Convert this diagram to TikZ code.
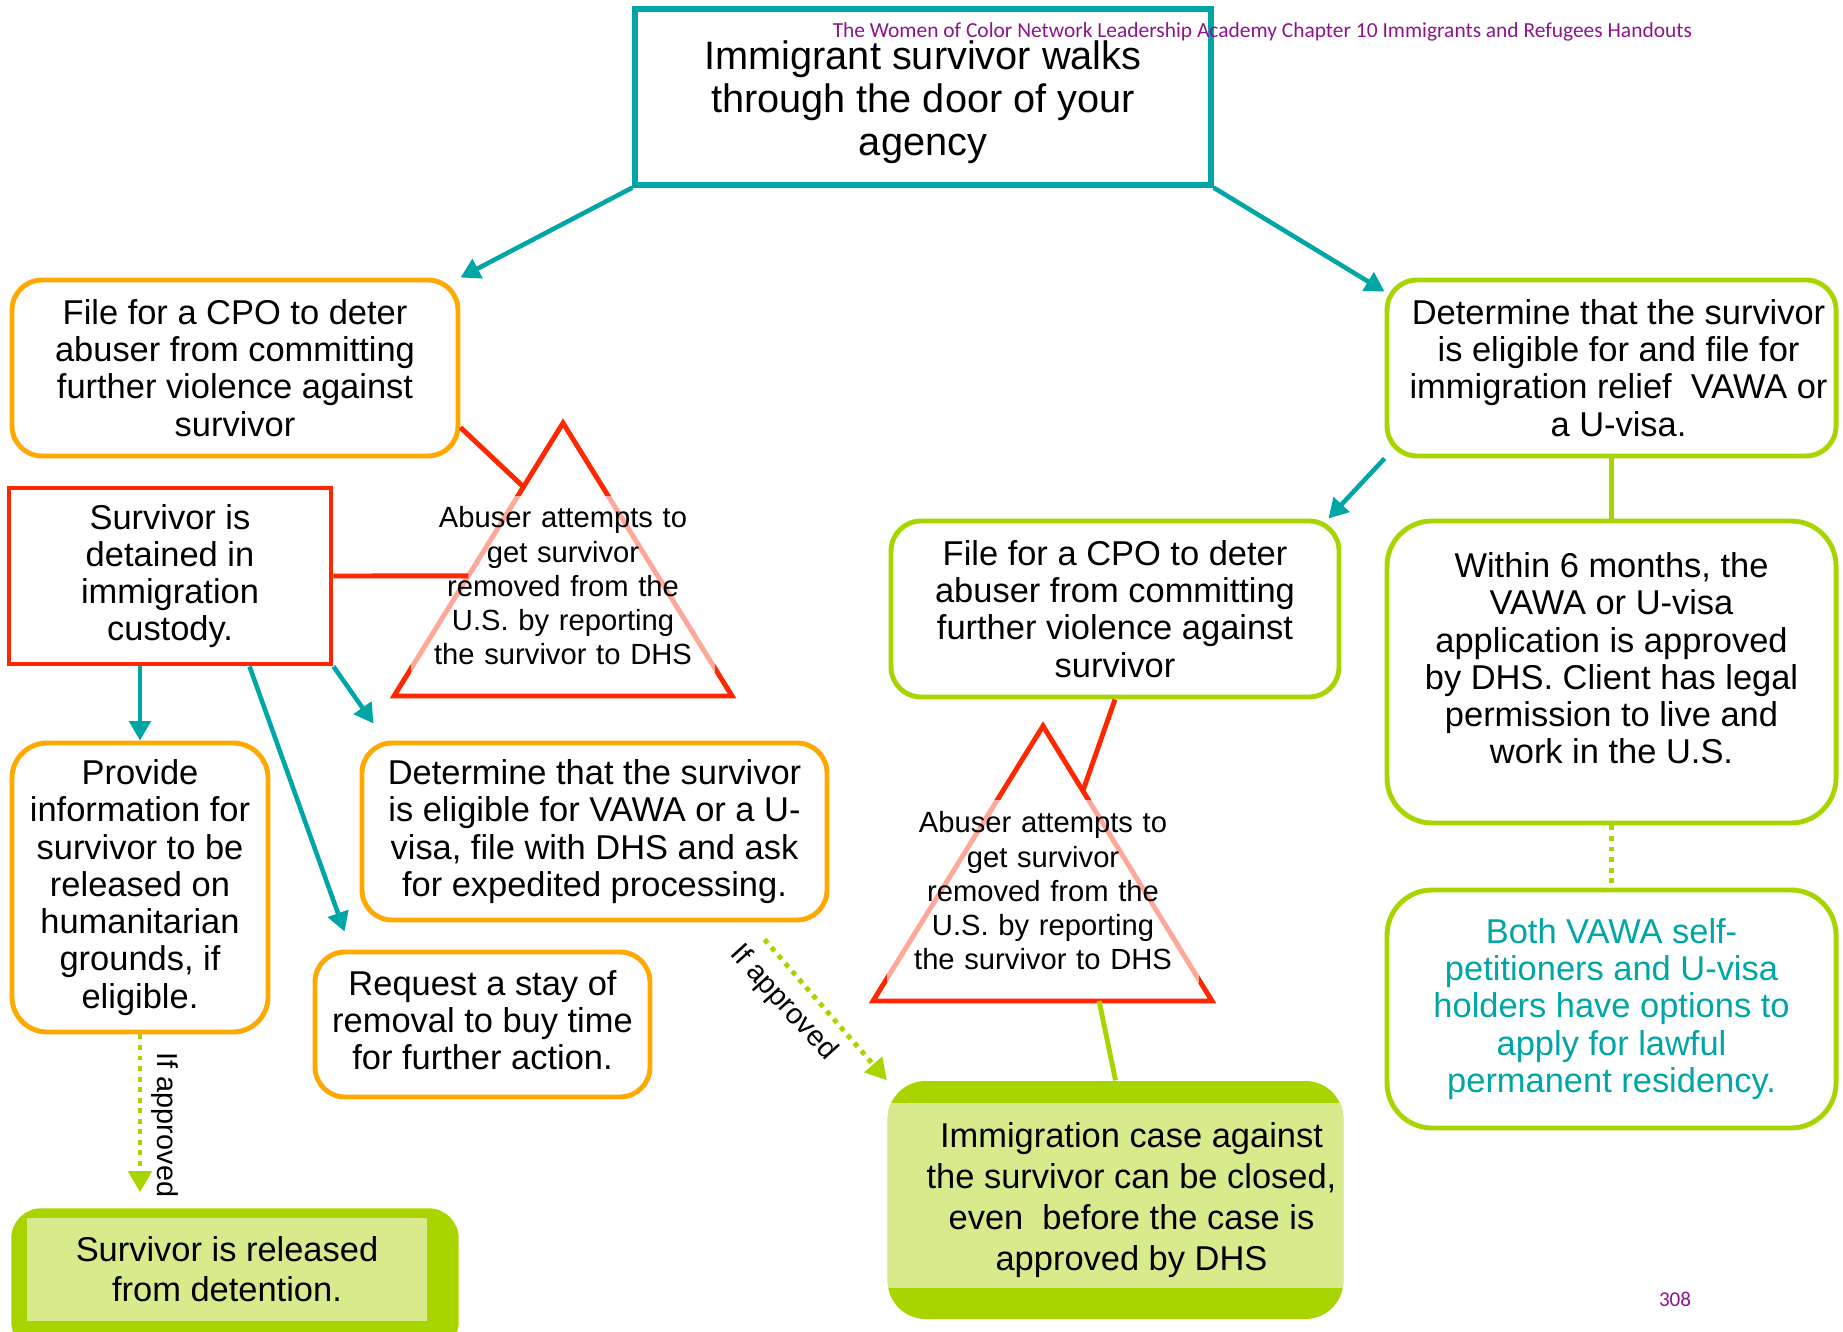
\documentclass[tikz,border=0pt]{standalone}
\usepackage{fontspec}
\setmainfont{Liberation Sans}
\newfontfamily\hdrfont{Carlito}
\usepackage{xcolor}
\usetikzlibrary{positioning,arrows.meta,calc,backgrounds}

\definecolor{tealc}{RGB}{0,166,166}
\definecolor{orangec}{RGB}{255,168,0}
\definecolor{greenc}{RGB}{168,212,0}
\definecolor{lightg}{RGB}{216,234,140}
\definecolor{redc}{RGB}{255,38,0}
\definecolor{purplec}{RGB}{140,20,140}

\begin{document}
\begin{tikzpicture}[
    every node/.style={font=\fontsize{9.8}{10.6}\selectfont, align=center, inner sep=2pt},
    box/.style={draw, line width=1.4pt, rounded corners=0.3cm},
    obox/.style={box, draw=orangec},
    gbox/.style={box, draw=greenc},
    flow/.style={draw=tealc, line width=1.3pt, -{Triangle[length=5.5pt,width=6pt]}},
    okflow/.style={draw=greenc, line width=1.4pt, dash pattern=on 1.4pt off 1.6pt, -{Triangle[length=6pt,width=6.5pt]}},
    abuse/.style={draw=redc, line width=1.4pt},
    tritext/.style={fill=white, fill opacity=0.6, text opacity=1, font=\fontsize{8.3}{9.75}\selectfont, inner sep=0pt},
    oklabel/.style={font=\fontsize{8.2}{9}\selectfont}
]
\useasboundingbox (0,0) rectangle (18.43,-13.32);

% Start
\node[draw=tealc, line width=1.5pt, minimum width=5.76cm, minimum height=1.76cm,
      font=\fontsize{11.3}{12.2}\selectfont] (door) at (9.23,-0.97)
      {\rule{0pt}{11.2pt}Immigrant survivor walks\\through the door of your\\agency};
\node[anchor=west, text=purplec, font=\hdrfont\fontsize{6.1}{7}\selectfont] (hdr) at (8.25,-0.32)
      {The Women of Color Network Leadership Academy Chapter 10 Immigrants and Refugees Handouts};

% Left branch
\node[obox, minimum width=4.46cm, minimum height=1.76cm] (cpoL) at (2.35,-3.68)
      {File for a CPO to deter\\abuser from committing\\further violence against\\survivor};
\node[draw=redc, line width=1.4pt, minimum width=3.22cm, minimum height=1.76cm] (detained) at (1.70,-5.76)
      {Survivor is\\detained in\\immigration\\custody.};

\coordinate (t1top) at (5.63,-4.23);
\coordinate (t1left) at (3.94,-6.96);
\coordinate (t1right) at (7.32,-6.96);
\draw[abuse] (t1top) -- (t1left) -- (t1right) -- cycle;
\node[tritext, text width=3.04cm, minimum height=1.8cm] (t1txt) at (5.63,-5.86)
      {Abuser attempts to\\get survivor\\removed from the\\U.S. by reporting\\the survivor to DHS};

\node[obox, rounded corners=0.35cm, minimum width=2.56cm, minimum height=2.89cm] (provide) at (1.40,-8.875)
      {Provide\\information for\\survivor to be\\released on\\humanitarian\\grounds, if\\eligible.};
\node[obox, minimum width=4.65cm, minimum height=1.77cm] (eligL) at (5.945,-8.315)
      {Determine that the survivor\\is eligible for VAWA or a U-\\visa, file with DHS and ask\\for expedited processing.};
\node[obox, minimum width=3.35cm, minimum height=1.45cm] (stay) at (4.825,-10.245)
      {Request a stay of\\removal to buy time\\for further action.\\[-8pt]\mbox{}};
\node[fill=lightg, minimum width=4.0cm, minimum height=1.03cm, inner sep=0pt,
      font=\fontsize{9.8}{11.3}\selectfont] (released) at (2.27,-12.695)
      {Survivor is released\\from detention.};
\begin{scope}[on background layer]
  \fill[greenc, rounded corners=0.3cm] ([xshift=-0.15cm,yshift=0.09cm]released.north west)
      rectangle ([xshift=0.31cm,yshift=-0.3cm]released.south east);
\end{scope}

% Right branch
\node[gbox, minimum width=4.49cm, minimum height=1.76cm] (vawaR) at (16.115,-3.68)
      {\hspace*{0.14cm}Determine that the survivor\\\hspace*{0.14cm}is eligible for and file for\\\hspace*{0.14cm}immigration relief\ \ VAWA or\\\hspace*{0.14cm}a U-visa.};
\node[gbox, minimum width=4.48cm, minimum height=1.76cm] (cpoR) at (11.15,-6.09)
      {File for a CPO to deter\\abuser from committing\\further violence against\\survivor};
\node[gbox, rounded corners=0.45cm, minimum width=4.49cm, minimum height=3.02cm] (within) at (16.115,-6.72)
      {Within 6 months, the\\VAWA or U-visa\\application is approved\\by DHS. Client has legal\\permission to live and\\work in the U.S.\\[-2.8pt]\mbox{}};
\node[gbox, rounded corners=0.45cm, minimum width=4.49cm, minimum height=2.38cm, text=tealc] (both) at (16.115,-10.09)
      {Both VAWA self-\\petitioners and U-visa\\holders have options to\\apply for lawful\\permanent residency.};

\coordinate (t2top) at (10.43,-7.26);
\coordinate (t2left) at (8.73,-10.01);
\coordinate (t2right) at (12.12,-10.01);
\draw[abuse] (t2top) -- (t2left) -- (t2right) -- cycle;
\node[tritext, text width=3.12cm, minimum height=1.83cm] (t2txt) at (10.43,-8.91)
      {Abuser attempts to\\get survivor\\removed from the\\U.S. by reporting\\the survivor to DHS};

\node[fill=greenc, rounded corners=0.38cm, minimum width=4.45cm, minimum height=2.38cm,
      font=\fontsize{9.8}{11.6}\selectfont,
      path picture={\fill[lightg, sharp corners] ([yshift=-0.215cm]path picture bounding box.north west)
          rectangle ([yshift=0.31cm]path picture bounding box.south east);}] (closed) at (11.155,-12.0)
      {\hspace*{0.32cm}Immigration case against\\\hspace*{0.32cm}the survivor can be closed,\\\hspace*{0.32cm}even\ \ before the case is\\\hspace*{0.32cm}approved by DHS};

% Connectors
\draw[flow] (door.south west) -- (cpoL.north east);
\draw[flow] (door.south east) -- ([yshift=-0.14cm]vawaR.north west);

\draw[abuse] ([yshift=0.31cm]cpoL.south east) -- ($(t1top)!0.234!(t1left)$);
\draw[abuse] (detained.east) -- ($(t1top)!0.56!(t1left)$);
\draw[flow] (detained.south -| provide.north) -- (provide.north);
\draw[flow] ([xshift=2.43cm]detained.south west) -- ([xshift=0.32cm,yshift=0.18cm]stay.north west);
\draw[flow] (detained.south east) -- ([xshift=0.14cm,yshift=0.17cm]eligL.north west);

\draw[okflow] (provide.south) -- ($(provide.south |- released.north)+(0,0.25)$);
\node[oklabel, rotate=-90] (ok1) at (1.65,-11.25) {If approved};
\draw[okflow] ([xshift=-0.65cm,yshift=-0.17cm]eligL.south east) -- (closed.north west);
\node[oklabel, rotate=-47.8] (ok2) at (7.83,-10.03) {If approved};

\draw[flow] (vawaR.south west) -- ([xshift=-0.13cm]cpoR.north east);
\draw[draw=greenc, line width=1.4pt] (vawaR.south) -- (within.north);
\draw[draw=greenc, line width=1.4pt, dash pattern=on 1.4pt off 1.6pt] (within.south) -- (both.north);
\draw[abuse] (cpoR.south) -- ($(t2top)!0.236!(t2right)$);
\draw[draw=greenc, line width=1.4pt] ($(t2left)!0.667!(t2right)$) -- (closed.north);

\node[text=purplec, font=\hdrfont\fontsize{6}{7}\selectfont] (pgno) at (16.75,-12.99) {308};
\end{tikzpicture}
\end{document}
